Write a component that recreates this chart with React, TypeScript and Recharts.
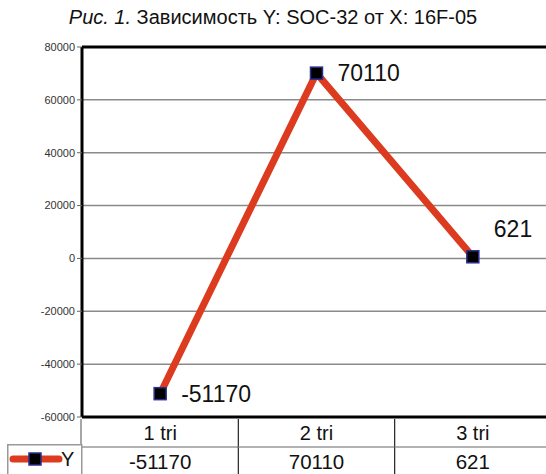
import React from 'react'
import { LineChart, Line, XAxis, YAxis, CartesianGrid, ReferenceLine, LabelList, Legend } from 'recharts'

const categories = ['1 tri', '2 tri', '3 tri']
const values = [-51170, 70110, 621]
const yTicks = [-60000, -40000, -20000, 0, 20000, 40000, 60000, 80000]

const data = categories.map((name, i) => ({ name, Y: values[i] }))

const RED = '#dc3b1f'
const NAVY = '#2b2f8f'
const FONT = '"Liberation Sans", Arial, sans-serif'

const W = 560
const H = 474
const LEFT = 82
const RIGHT = 551
const PAD = (RIGHT - LEFT) / 6

const Square = ({ cx, cy }: any) => (
  cx == null ? null : <rect x={cx - 6} y={cy - 6} width={12} height={12} fill="#000" stroke={NAVY} strokeWidth={1.5} />
)

const PointLabel = ({ x, y, value, index }: any) => {
  const up = index === 2 ? -28 : 0
  return (
    <text x={x + 21} y={y + up} dy="0.36em" fontSize={23} fill="#111" fontFamily={FONT}>{value}</text>
  )
}

const TableTick = ({ x, y, payload, index }: any) => {
  const val = values[index]
  return (
    <g>
      {index === 0 && <line x1={x - PAD - 1} x2={x - PAD - 1} y1={y} y2={H} stroke="#888" strokeWidth={1.5} />}
      <line x1={x - PAD} x2={x + PAD} y1={y + 28} y2={y + 28} stroke="#999" strokeWidth={1.5} />
      {index < 2 && <line x1={x + PAD} x2={x + PAD} y1={y} y2={H} stroke="#222" strokeWidth={1.2} />}
      <text x={x} y={y + 14} dy="0.36em" textAnchor="middle" fontSize={20} fill="#111" fontFamily={FONT}>{payload.value}</text>
      <text x={x} y={y + 43} dy="0.36em" textAnchor="middle" fontSize={20.5} fill="#111" fontFamily={FONT}>{val}</text>
    </g>
  )
}

const LegendCell = () => (
  <svg width={76} height={30} style={{ display: 'block' }}>
    <rect x={0.75} y={0.75} width={74} height={30} fill="#fff" stroke="#999" strokeWidth={1.5} />
    <line x1={6} x2={52} y1={15} y2={15} stroke={RED} strokeWidth={7} strokeLinecap="round" />
    <rect x={22} y={9} width={12} height={12} fill="#000" stroke={NAVY} strokeWidth={1.5} />
    <text x={54} y={15} dy="0.36em" fontSize={20} fill="#111" fontFamily={FONT}>Y</text>
  </svg>
)

export default function App() {
  return (
    <div style={{ position: 'absolute', left: 0, top: 0, width: 546, height: H, overflow: 'hidden', background: '#fff' }}>
      <div style={{ position: 'absolute', left: 0, top: 6, width: 546, textAlign: 'center', fontFamily: FONT, fontSize: 20, color: '#111' }}>
        <i>Рис. 1.</i> Зависимость Y: SOC-32 от X: 16F-05
      </div>
      <LineChart width={W} height={H} data={data} margin={{ top: 47, right: W - RIGHT, bottom: 0, left: 0 }}>
        <CartesianGrid vertical={false} stroke="#8a8a8a" strokeWidth={1.5} />
        <ReferenceLine y={80000} stroke="#000" strokeWidth={3} />
        <XAxis
          dataKey="name"
          height={H - 417}
          padding={{ left: PAD, right: PAD }}
          axisLine={{ stroke: '#000', strokeWidth: 3 }}
          tickLine={false}
          tickSize={0}
          tick={<TableTick />}
          interval={0}
        />
        <YAxis
          domain={[-60000, 80000]}
          ticks={yTicks}
          width={LEFT}
          axisLine={{ stroke: '#000', strokeWidth: 3 }}
          tickLine={{ stroke: '#666' }}
          tickSize={5}
          tick={{ fontSize: 11, fill: '#333', fontFamily: FONT }}
        />
        <Legend
          layout="vertical"
          align="center"
          verticalAlign="middle"
          content={<LegendCell />}
          wrapperStyle={{ left: 7, top: 444, width: 76, height: 30 }}
        />
        <Line
          dataKey="Y"
          stroke={RED}
          strokeWidth={7}
          dot={<Square />}
          activeDot={false}
          isAnimationActive={false}
        >
          <LabelList dataKey="Y" content={<PointLabel />} />
        </Line>
      </LineChart>
    </div>
  )
}
